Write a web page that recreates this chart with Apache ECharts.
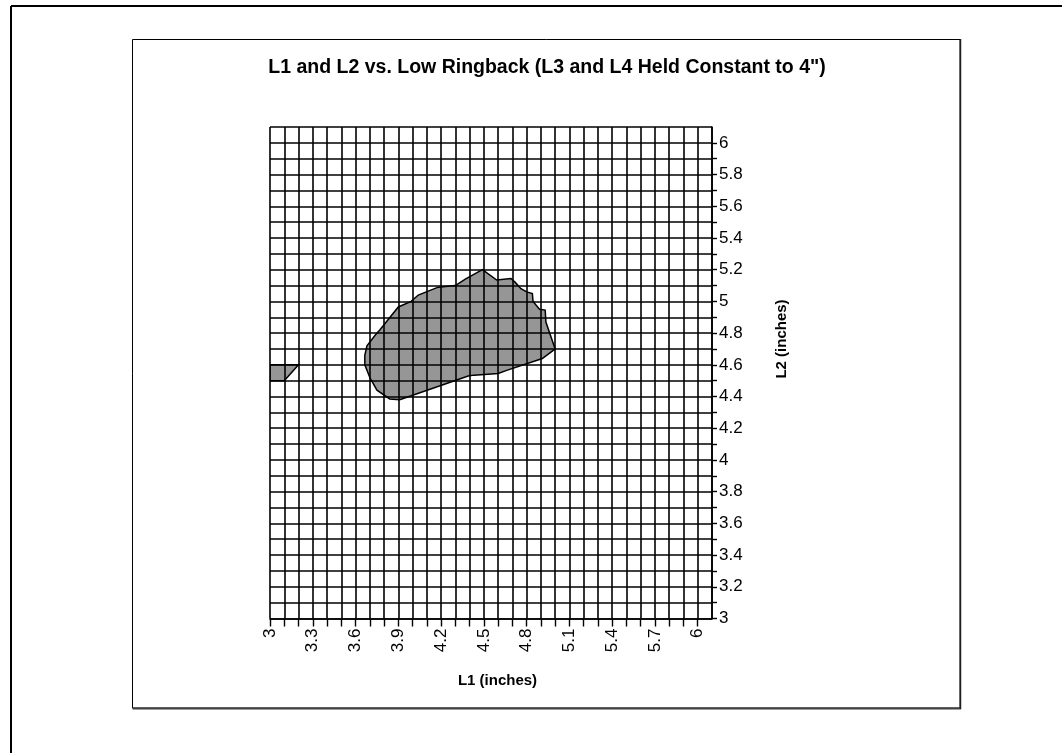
<!DOCTYPE html>
<html>
<head>
<meta charset="utf-8">
<script src="https://cdn.jsdelivr.net/npm/echarts@6/dist/echarts.min.js"></script>
<style>
html,body{margin:0;padding:0;background:#fff;}
#chart{width:1062px;height:753px;}
</style>
</head>
<body>
<div id="chart"></div>
<script>
// Region of low ringback (main area), outline points
var mainL1 = [4.49, 4.59, 4.69, 4.72, 4.76, 4.80, 4.84, 4.845, 4.89, 4.93, 4.935, 5.00, 4.91, 4.66, 4.60, 4.43, 4.39, 3.91, 3.84, 3.75, 3.70, 3.665, 3.665, 3.68, 3.74, 3.77, 3.90, 3.99, 4.04, 4.18, 4.30, 4.37];
var mainL2 = [5.20, 5.135, 5.145, 5.12, 5.08, 5.06, 5.05, 5.00, 4.95, 4.945, 4.87, 4.70, 4.64, 4.565, 4.545, 4.535, 4.53, 4.38, 4.385, 4.44, 4.52, 4.60, 4.66, 4.72, 4.79, 4.82, 4.965, 5.00, 5.04, 5.09, 5.10, 5.14];
// Small region at left edge
var smallL1 = [3.0, 3.1, 3.2, 3.0];
var smallL2 = [4.5, 4.5, 4.6, 4.6];
// Tick labels
var xTickLabels = ['3', '3.3', '3.6', '3.9', '4.2', '4.5', '4.8', '5.1', '5.4', '5.7', '6'];
var yTickLabels = ['3', '3.2', '3.4', '3.6', '3.8', '4', '4.2', '4.4', '4.6', '4.8', '5', '5.2', '5.4', '5.6', '5.8', '6'];

var FONT = '"Liberation Sans", Arial, sans-serif';
var chart = echarts.init(document.getElementById('chart'), null, {renderer: 'canvas'});

function inLabels(list, v) {
  var k = Math.round(v * 10);
  for (var i = 0; i < list.length; i++) {
    if (Math.round(parseFloat(list[i]) * 10) === k) return list[i];
  }
  return '';
}

var regions = [
  {xs: mainL1, ys: mainL2},
  {xs: smallL1, ys: smallL2}
];

var option = {
  animation: false,
  backgroundColor: '#fff',
  grid: {left: 270, top: 127, width: 442, height: 491.5, containLabel: false},
  xAxis: {
    type: 'value', min: 3, max: 6.1, interval: 0.1, z: 5,
    name: 'L1 (inches)', nameLocation: 'middle', nameGap: 55,
    nameTextStyle: {fontFamily: FONT, fontSize: 15, fontWeight: 'bold', color: '#000', padding: [0, 0, 0, 13]},
    axisLine: {show: true, lineStyle: {color: '#000', width: 1.6}},
    axisTick: {show: true, inside: false, length: 8, lineStyle: {color: '#000', width: 1.4}},
    axisLabel: {
      show: true, rotate: 90, margin: 10, showMinLabel: true, showMaxLabel: false,
      fontFamily: FONT, fontSize: 17, color: '#000',
      formatter: function (v) { return inLabels(xTickLabels, v); }
    },
    splitLine: {show: true, lineStyle: {color: '#000', width: 1.6}}
  },
  yAxis: {
    type: 'value', position: 'right', min: 3, max: 6.1, interval: 0.1, z: 5,
    axisLine: {show: true, lineStyle: {color: '#000', width: 1.6}},
    axisTick: {show: true, inside: false, length: 5, lineStyle: {color: '#000', width: 1.4}},
    axisLabel: {
      show: true, margin: 7, showMinLabel: true, showMaxLabel: false,
      fontFamily: FONT, fontSize: 17, color: '#000',
      formatter: function (v) { return inLabels(yTickLabels, v); }
    },
    splitLine: {show: true, lineStyle: {color: '#000', width: 1.6}}
  },
  series: [{
    type: 'custom',
    coordinateSystem: 'cartesian2d',
    clip: true,
    z: 1,
    data: regions.map(function (r, i) { return [r.xs[0], r.ys[0], i]; }),
    renderItem: function (params, api) {
      var r = regions[params.dataIndex];
      var pts = r.xs.map(function (x, i) { return api.coord([x, r.ys[i]]); });
      return {
        type: 'polygon',
        shape: {points: pts},
        style: {fill: '#969696', stroke: '#000', lineWidth: 1.5}
      };
    }
  }],
  graphic: [
    {type: 'line', silent: true, shape: {x1: 11, y1: 6, x2: 11, y2: 760}, style: {stroke: '#000', lineWidth: 2}},
    {type: 'line', silent: true, shape: {x1: 11, y1: 6, x2: 1070, y2: 6}, style: {stroke: '#000', lineWidth: 2}},
    {type: 'rect', silent: true, shape: {x: 132.5, y: 39.5, width: 827.5, height: 668.5}, style: {fill: null, stroke: '#000', lineWidth: 1}},
    {type: 'line', silent: true, shape: {x1: 132.5, y1: 708.5, x2: 961, y2: 708.5}, style: {stroke: '#404040', lineWidth: 2}},
    {type: 'line', silent: true, shape: {x1: 960.5, y1: 39, x2: 960.5, y2: 709}, style: {stroke: '#202020', lineWidth: 1.5}},
    {type: 'text', silent: true, x: 547, y: 68,
      style: {text: 'L1 and L2 vs. Low Ringback (L3 and L4 Held Constant to 4")', fontFamily: FONT, fontSize: 19.5, fontWeight: 'bold', fill: '#000', textAlign: 'center', textVerticalAlign: 'middle'}},
    {type: 'text', silent: true, x: 782, y: 339, rotation: Math.PI / 2,
      style: {text: 'L2 (inches)', fontFamily: FONT, fontSize: 15, fontWeight: 'bold', fill: '#000', textAlign: 'center', textVerticalAlign: 'middle'}}
  ]
};
chart.setOption(option);
</script>
</body>
</html>
